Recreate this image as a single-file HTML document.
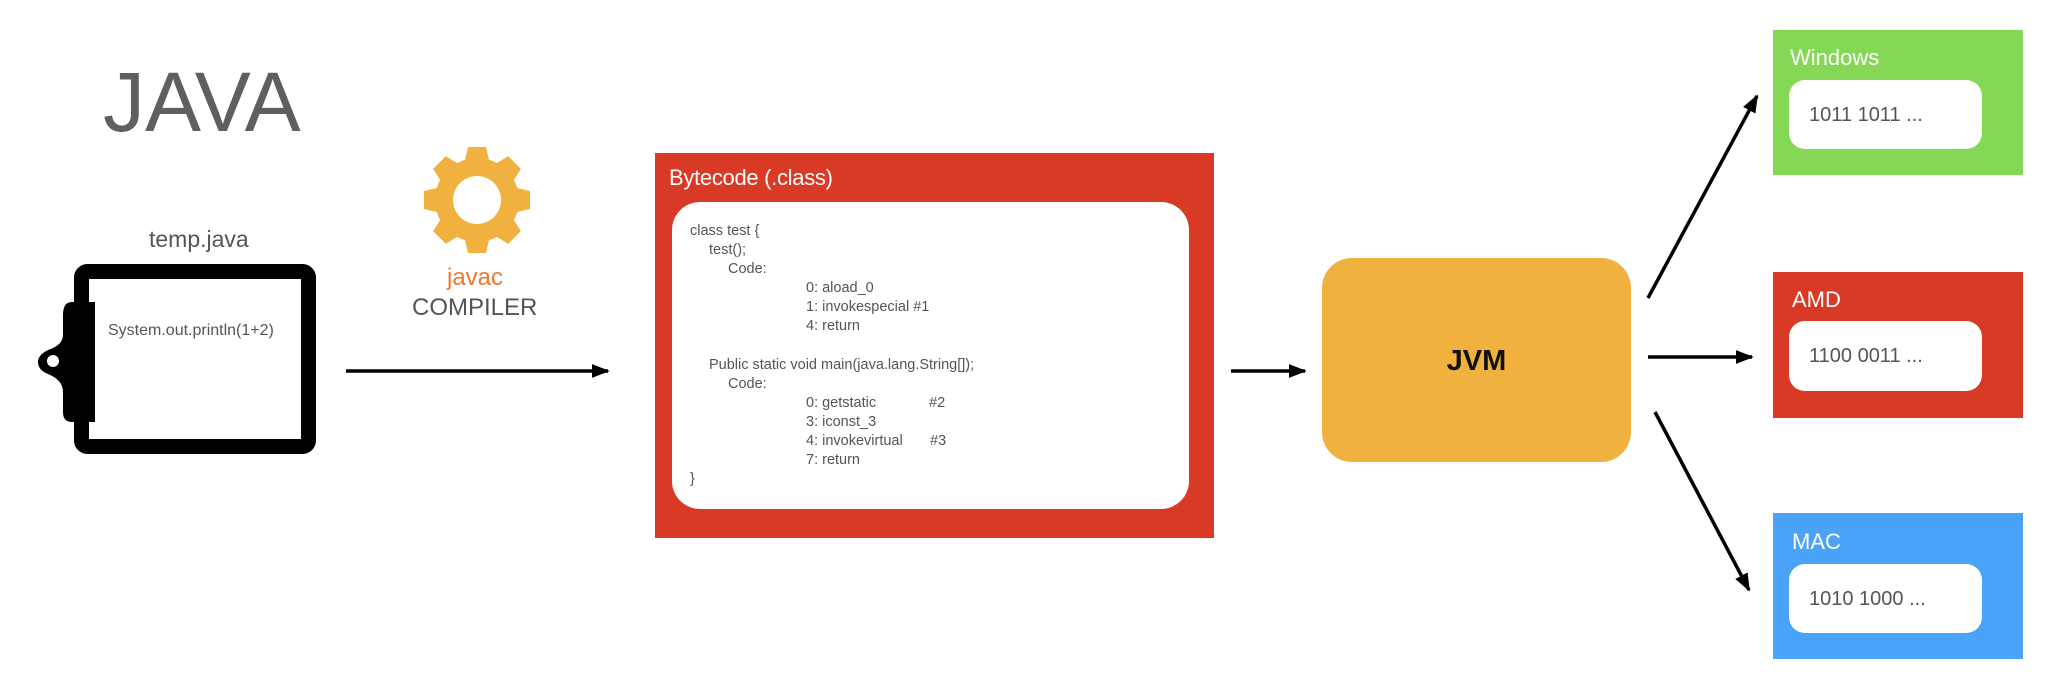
<!DOCTYPE html>
<html><head><meta charset="utf-8"><style>
html,body{margin:0;padding:0;background:#fff;}
body{width:2046px;height:684px;position:relative;overflow:hidden;font-family:"Liberation Sans",sans-serif;}
.a{position:absolute;white-space:pre;}
.c{position:absolute;white-space:pre;font-size:14.5px;color:#555;line-height:19px;}
</style></head><body>
<svg width="2046" height="684" style="position:absolute;left:0;top:0">
<defs>
<marker id="ah2" viewBox="0 0 10 10" refX="9" refY="5" markerWidth="18" markerHeight="14" orient="auto" markerUnits="userSpaceOnUse" preserveAspectRatio="none"><path d="M0,0 L10,5 L0,10 Z"/></marker></defs>
<rect x="81.5" y="271.5" width="227" height="175" rx="6" fill="#fff" stroke="#000" stroke-width="15"/>
<path d="M95,302 L72,302 Q63,302 63,315 L63,335 Q63,345 48,350 Q38,355 38,362 Q38,370 48,374 Q63,380 63,392 L63,412 Q63,422 72,422 L95,422 Z" fill="#000"/>
<circle cx="53" cy="361" r="6" fill="#fff"/>
<g transform="translate(477,200)" fill="#f1b13e">
<circle r="42"/>
<g><path d="M-9,-53 L9,-53 L13,-36 L-13,-36 Z"/><path d="M-9,-53 L9,-53 L13,-36 L-13,-36 Z" transform="rotate(45)"/><path d="M-9,-53 L9,-53 L13,-36 L-13,-36 Z" transform="rotate(90)"/><path d="M-9,-53 L9,-53 L13,-36 L-13,-36 Z" transform="rotate(135)"/><path d="M-9,-53 L9,-53 L13,-36 L-13,-36 Z" transform="rotate(180)"/><path d="M-9,-53 L9,-53 L13,-36 L-13,-36 Z" transform="rotate(225)"/><path d="M-9,-53 L9,-53 L13,-36 L-13,-36 Z" transform="rotate(270)"/><path d="M-9,-53 L9,-53 L13,-36 L-13,-36 Z" transform="rotate(315)"/></g>
<circle r="24" fill="#fff"/>
</g>
<g stroke="#000" stroke-width="3.5" fill="none" marker-end="url(#ah2)">
<line x1="346" y1="371" x2="608" y2="371"/>
<line x1="1231" y1="371" x2="1305" y2="371"/>
<line x1="1648" y1="298" x2="1757" y2="96"/>
<line x1="1648" y1="357" x2="1752" y2="357"/>
<line x1="1655" y1="412" x2="1749" y2="590"/>
</g>
<rect x="655" y="153" width="559" height="385" fill="#d93a26"/>
<rect x="672" y="202" width="517" height="307" rx="28" fill="#fff"/>
<rect x="1322" y="258" width="309" height="204" rx="30" fill="#f1b13e"/>
<rect x="1773" y="30" width="250" height="145" fill="#84d855"/>
<rect x="1789" y="80" width="193" height="69" rx="16" fill="#fff"/>
<rect x="1773" y="272" width="250" height="146" fill="#d93a26"/>
<rect x="1789" y="321" width="193" height="70" rx="16" fill="#fff"/>
<rect x="1773" y="513" width="250" height="146" fill="#4aa3f8"/>
<rect x="1789" y="564" width="193" height="69" rx="16" fill="#fff"/>
</svg>
<div class="a" style="left:103px;top:52px;font-size:84px;color:#5f5f5f;line-height:100px">JAVA</div>
<div class="a" style="left:149px;top:226px;font-size:23px;color:#555;line-height:26px">temp.java</div>
<div class="a" style="left:108px;top:321px;font-size:16px;color:#555;line-height:20px">System.out.println(1+2)</div>
<div class="a" style="left:447px;top:264px;font-size:24px;color:#e87b2e;line-height:28px">javac</div>
<div class="a" style="left:412px;top:294px;font-size:24px;color:#555;line-height:28px">COMPILER</div>
<div class="a" style="left:669px;top:165px;font-size:22px;color:#fff;line-height:26px;letter-spacing:-0.3px">Bytecode (.class)</div>
<div class="c" style="left:690px;top:222px">class test {</div>
<div class="c" style="left:709px;top:241px">test();</div>
<div class="c" style="left:728px;top:260px">Code:</div>
<div class="c" style="left:806px;top:279px">0: aload_0</div>
<div class="c" style="left:806px;top:298px">1: invokespecial #1</div>
<div class="c" style="left:806px;top:317px">4: return</div>
<div class="c" style="left:709px;top:356px">Public static void main(java.lang.String[]);</div>
<div class="c" style="left:728px;top:375px">Code:</div>
<div class="c" style="left:806px;top:394px">0: getstatic</div>
<div class="c" style="left:929px;top:394px">#2</div>
<div class="c" style="left:806px;top:413px">3: iconst_3</div>
<div class="c" style="left:806px;top:432px">4: invokevirtual</div>
<div class="c" style="left:930px;top:432px">#3</div>
<div class="c" style="left:806px;top:451px">7: return</div>
<div class="c" style="left:690px;top:470px">}</div>
<div class="a" style="left:1322px;top:343px;width:309px;text-align:center;font-size:29px;font-weight:bold;color:#111;line-height:36px">JVM</div>
<div class="a" style="left:1790px;top:45px;font-size:22px;color:#fff;line-height:26px">Windows</div>
<div class="a" style="left:1809px;top:103px;font-size:20px;color:#555;line-height:24px">1011 1011 ...</div>
<div class="a" style="left:1792px;top:287px;font-size:22px;color:#fff;line-height:26px">AMD</div>
<div class="a" style="left:1809px;top:344px;font-size:20px;color:#555;line-height:24px">1100 0011 ...</div>
<div class="a" style="left:1792px;top:529px;font-size:22px;color:#fff;line-height:26px">MAC</div>
<div class="a" style="left:1809px;top:587px;font-size:20px;color:#555;line-height:24px">1010 1000 ...</div>
</body></html>
